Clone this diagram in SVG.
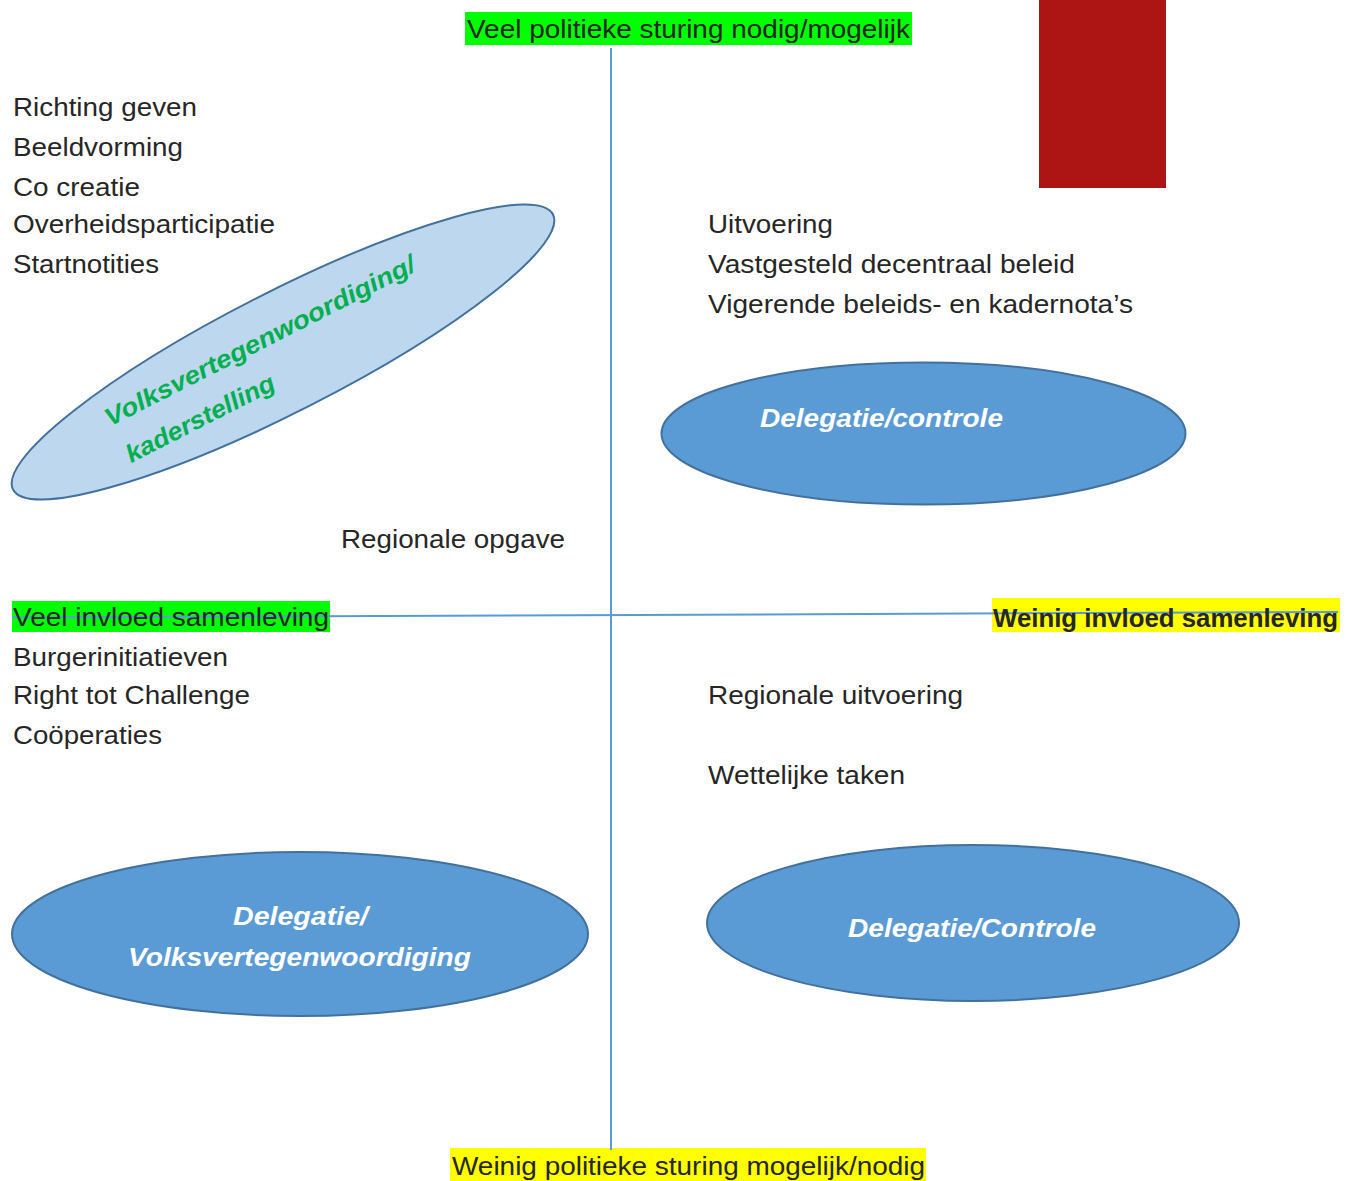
<svg xmlns="http://www.w3.org/2000/svg" width="1346" height="1181" viewBox="0 0 1346 1181">
<style>
.t{font-family:"Liberation Sans",Arial,sans-serif;font-size:26px;fill:#262626}
.w{font-family:"Liberation Sans",Arial,sans-serif;font-size:26px;font-weight:bold;font-style:italic;fill:#ffffff}
.g{font-family:"Liberation Sans",Arial,sans-serif;font-size:25px;font-weight:bold;font-style:italic;fill:#00B050}
.ax{stroke:#5B9BD5;stroke-width:2;fill:none}
.el{fill:#5B9BD5;stroke:#41719C;stroke-width:2}
</style>
<rect width="1346" height="1181" fill="#ffffff"/>
<rect x="1039" y="0" width="127" height="188" fill="#AD1515"/>
<rect x="465" y="12" width="447" height="33" fill="#00FF00"/>
<rect x="12" y="601" width="318" height="31" fill="#00FF00"/>
<rect x="992" y="598" width="348" height="34" fill="#FFFF00"/>
<rect x="450" y="1148" width="476" height="33" fill="#FFFF00"/>
<g id="connectors">
<line class="ax" x1="611" y1="48" x2="611" y2="1150"/>
<line class="ax" x1="12" y1="617.5" x2="1338" y2="612"/>
</g>
<g id="labels">
<text class="t" x="467" y="38" textLength="443" lengthAdjust="spacingAndGlyphs">Veel politieke sturing nodig/mogelijk</text>
<text class="t" x="452" y="1175" textLength="473" lengthAdjust="spacingAndGlyphs">Weinig politieke sturing mogelijk/nodig</text>
<text class="t" x="13" y="626" textLength="316" lengthAdjust="spacingAndGlyphs">Veel invloed samenleving</text>
<text class="t" x="993" y="627" textLength="345" lengthAdjust="spacingAndGlyphs" style="font-weight:bold">Weinig invloed samenleving</text>
</g>
<g id="topleft-list">
<text class="t" x="13" y="116" textLength="184" lengthAdjust="spacingAndGlyphs">Richting geven</text>
<text class="t" x="13" y="156" textLength="170" lengthAdjust="spacingAndGlyphs">Beeldvorming</text>
<text class="t" x="13" y="196" textLength="127" lengthAdjust="spacingAndGlyphs">Co creatie</text>
<text class="t" x="13" y="233" textLength="262" lengthAdjust="spacingAndGlyphs">Overheidsparticipatie</text>
<text class="t" x="13" y="273" textLength="146" lengthAdjust="spacingAndGlyphs">Startnotities</text>
</g>
<g id="topright-list">
<text class="t" x="708" y="233" textLength="125" lengthAdjust="spacingAndGlyphs">Uitvoering</text>
<text class="t" x="708" y="273" textLength="367" lengthAdjust="spacingAndGlyphs">Vastgesteld decentraal beleid</text>
<text class="t" x="708" y="313" textLength="425" lengthAdjust="spacingAndGlyphs">Vigerende beleids- en kadernota’s</text>
</g>
<g id="regionale-opgave">
<text class="t" x="341" y="548" textLength="224" lengthAdjust="spacingAndGlyphs">Regionale opgave</text>
</g>
<g id="bottomleft-list">
<text class="t" x="13" y="666" textLength="215" lengthAdjust="spacingAndGlyphs">Burgerinitiatieven</text>
<text class="t" x="13" y="704" textLength="237" lengthAdjust="spacingAndGlyphs">Right tot Challenge</text>
<text class="t" x="13" y="744" textLength="149" lengthAdjust="spacingAndGlyphs">Coöperaties</text>
</g>
<g id="bottomright-list">
<text class="t" x="708" y="704" textLength="255" lengthAdjust="spacingAndGlyphs">Regionale uitvoering</text>
<text class="t" x="708" y="784" textLength="197" lengthAdjust="spacingAndGlyphs">Wettelijke taken</text>
</g>
<g id="node-volksvertegenwoordiging" transform="rotate(-27 283 352)">
<ellipse cx="283" cy="352" rx="303" ry="60" fill="#BDD7EE" stroke="#41719C" stroke-width="2"/>
<text class="g" x="95" y="340" textLength="345" lengthAdjust="spacingAndGlyphs">Volksvertegenwoordiging/</text>
<text class="g" x="97" y="382" textLength="164" lengthAdjust="spacingAndGlyphs">kaderstelling</text>
</g>
<g id="node-delegatie-controle-top">
<ellipse class="el" cx="923.5" cy="433.5" rx="262" ry="71"/>
<text class="w" x="760" y="427" textLength="243" lengthAdjust="spacingAndGlyphs">Delegatie/controle</text>
</g>
<g id="node-delegatie-volks">
<ellipse class="el" cx="300" cy="934" rx="288" ry="82"/>
<text class="w" x="233" y="925" textLength="135" lengthAdjust="spacingAndGlyphs">Delegatie/</text>
<text class="w" x="128" y="966" textLength="343" lengthAdjust="spacingAndGlyphs">Volksvertegenwoordiging</text>
</g>
<g id="node-delegatie-controle-bottom">
<ellipse class="el" cx="973" cy="923" rx="266" ry="78"/>
<text class="w" x="848" y="937" textLength="248" lengthAdjust="spacingAndGlyphs">Delegatie/Controle</text>
</g>
</svg>
